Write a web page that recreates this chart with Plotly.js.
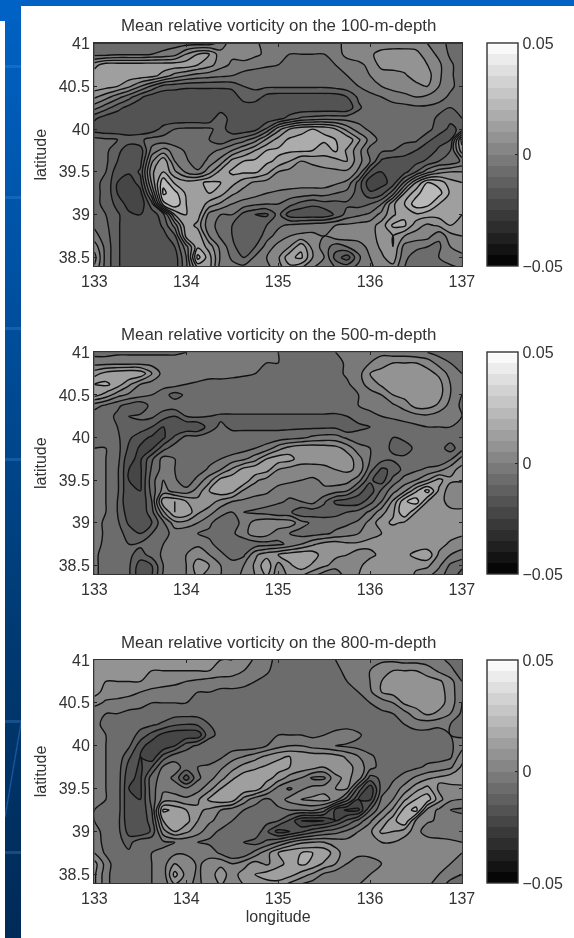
<!DOCTYPE html>
<html><head><meta charset="utf-8">
<script src="https://cdn.plot.ly/plotly-3.0.1.min.js"></script>
<style>
html,body{margin:0;padding:0;background:#fff;width:574px;height:938px;overflow:hidden}
#band{position:absolute;left:5px;top:0;width:569px;height:938px;background:linear-gradient(#0062c4,#004f9e 33%,#003a72 68%,#002a58)}
#bandTop{position:absolute;left:0;top:0;width:20px;height:21px;background:#0062c4}
#sheet{position:absolute;left:21px;top:6px;width:553px;height:932px;background:#fff}
.st{position:absolute;left:5px;width:16px;height:3px;background:rgba(70,140,220,.3)}
#diag{position:absolute;left:5px;top:723px;width:16px;height:94px;background:linear-gradient(to bottom right,transparent 46%,rgba(30,100,180,.8) 50%,transparent 54%)}
#plot{position:absolute;left:0;top:0;width:574px;height:938px;filter:blur(0.45px)}
</style></head><body>
<div id="band"></div><div id="bandTop"></div>
<div class="st" style="top:65px"></div><div class="st" style="top:196px"></div><div class="st" style="top:327px"></div><div class="st" style="top:458px"></div><div class="st" style="top:720px"></div><div class="st" style="top:851px"></div><div id="diag"></div>
<div id="sheet"></div><div id="plot"></div>
<script>
const longitudes=[133,133.125,133.25,133.375,133.5,133.625,133.75,133.875,134,134.125,134.25,134.375,134.5,134.625,134.75,134.875,135,135.125,135.25,135.375,135.5,135.625,135.75,135.875,136,136.125,136.25,136.375,136.5,136.625,136.75,136.875,137];
const latitudes=[41,40.875,40.75,40.625,40.5,40.375,40.25,40.125,40,39.875,39.75,39.625,39.5,39.375,39.25,39.125,39,38.875,38.75,38.625,38.5,38.375];
const depths=[100,500,800];
const tickLon=[133,134,135,136,137];
const tickLat=[38.5,39,39.5,40,40.5,41];
// vorticity in units of 0.001
const vorticity100=[
[-7,-7,-7,-7,-7,-7,-7,-7,-7,-7,-7,-3,3,3,1,-2,-5,-5,-5,-5,-5,-2,2,2,2,2,2,2,2,0,-2,-7,-8],
[-7,-7,-6,-6,-6,-5,-4,-2,5,10,10,2,1,3,1,-1,-3,-5,-5,-5,-5,-3,2,2,4,7,8,8,7,2,-1,-6,-8],
[8,13,13,13,13,13,13,13,13,10,7,2,-1,-2,-3,-4,-5,-7,-8,-8,-7,-5,-3,-1,1,7,8,8,8,5,1,-4,-8],
[13,13,13,13,13,12,8,3,0,-2,-3,-4,-5,-7,-8,-9,-9,-9,-9,-9,-9,-8,-5,-4,0,2,2,4,8,7,1,-4,-8],
[13,12,10,6,0,-6,-12,-13,-14,-14,-14,-14,-13,-10,-9,-9,-9,-9,-9,-9,-9,-8,-7,-5,-2,0,2,2,3,5,0,-4,-7],
[6,2,-3,-8,-14,-18,-19,-19,-19,-19,-19,-19,-19,-12,-12,-17,-18,-18,-18,-18,-18,-18,-15,-9,-7,-5,-3,-1,0,-1,-3,-6,-8],
[-3,-8,-13,-17,-19,-19,-19,-19,-19,-19,-19,-19,-19,-19,-19,-19,-19,-19,-19,-19,-19,-19,-19,-11,-7,-7,-7,-7,-6,-6,-7,-10,-9],
[-14,-18,-19,-19,-19,-19,-19,-19,-19,-19,-19,-10,-19,-19,-19,-19,-17,-13,-9,-8,-7,-7,-7,-7,-6,-6,-6,-6,-6,-6,-12,-14,-10],
[-18,-19,-19,-19,-19,-18,-13,-10,-9,-9,-9,-12,-19,-19,-17,-9,3,10,14,15,14,10,3,-3,-6,-6,-6,-6,-7,-8,-13,-16,-14],
[-8,-9,-10,-12,-11,-8,-8,-9,-9,-9,-10,-14,-10,-7,-2,6,12,16,16,16,16,15,14,6,-2,-7,-8,-9,-9,-14,-17,-15,12],
[-9,-9,-13,-19,-18,-3,2,-2,-6,-10,-7,-4,0,5,10,15,16,16,16,15,12,16,9,2,-7,-9,-10,-12,-15,-18,-14,-10,8],
[-9,-9,-15,-19,-17,4,14,0,-4,-9,-3,2,12,15,16,16,14,10,5,6,8,8,10,2,-5,-16,-18,-18,-17,-14,-10,-9,-4],
[-9,-10,-18,-19,-14,9,15,6,-1,-4,3,12,16,16,16,12,5,3,3,3,3,4,4,-1,-16,-20,-19,-17,-10,-2,3,5,5],
[-9,-11,-20,-24,-17,6,24,14,12,14,16,15,12,7,4,3,3,3,2,3,3,1,-1,-12,-24,-22,-18,-4,10,20,18,12,10],
[-9,-11,-20,-24,-22,-1,26,22,14,14,15,12,6,3,2,0,-1,-2,-2,-3,-3,-5,-7,-12,-19,-17,-7,10,18,24,22,14,10],
[-9,-11,-17,-22,-24,-12,18,24,15,14,8,4,0,-2,-4,-5,-5,-8,-12,-14,-12,-12,-11,-12,-10,-5,9,15,23,22,15,12,10],
[-8,-10,-14,-19,-20,-18,-12,10,15,13,-2,-5,-5,-12,-15,-16,-8,-18,-19,-19,-19,-14,-8,-6,-4,2,9,14,14,12,12,14,10],
[-6,-9,-14,-19,-19,-19,-14,-3,14,8,-4,-6,-10,-15,-15,-10,-6,-4,-3,-2,-1,0,1,2,3,7,16,16,7,4,6,10,8],
[-3,-8,-14,-19,-19,-19,-17,-11,12,14,0,-6,-10,-15,-14,-7,-3,0,1,1,0,3,3,3,4,6,10,5,3,2,-4,3,5],
[3,-7,-14,-19,-19,-19,-19,-15,-2,14,8,-2,-8,-15,-10,-3,2,5,14,3,-2,-8,-5,-3,2,6,10,-2,-4,-5,-6,0,3],
[7,-7,-14,-19,-19,-19,-19,-18,-5,22,12,-1,-6,-10,-4,0,4,14,16,5,0,-12,-18,-6,0,4,8,-4,-7,-8,-5,-3,-2],
[4,-7,-14,-19,-19,-19,-19,-18,-6,10,12,-3,-3,-3,-3,-2,3,8,5,0,-2,-5,-6,-4,-1,2,3,-5,-8,-7,-6,-6,-5]];
const vorticity500=[
[-7,-7,-6,-6,-6,-6,-6,-6,-5,-5,-3,-2,-1,-1,-1,-4,-5,-6,-6,-6,-6,-5,-3,-2,-2,-2,-3,-3,-4,-5,-7,-8,-9],
[-2,-2,-2,-2,-2,-2,-2,-2,-2,-2,-2,-2,-2,-2,-3,-5,-5,-7,-8,-8,-8,-7,-4,-2,0,4,5,5,5,3,-2,-5,-8],
[8,12,14,15,14,5,-2,-2,-2,-2,-3,-3,-3,-4,-5,-7,-8,-8,-8,-8,-8,-7,-4,-2,5,6,7,7,7,7,4,-2,-5],
[15,16,13,6,0,-2,-3,-3,-5,-6,-7,-7,-8,-8,-8,-8,-8,-8,-8,-8,-8,-7,-6,-2,2,6,7,7,7,7,7,0,-5],
[12,8,2,-1,-3,-5,-8,-12,-9,-8,-8,-8,-8,-8,-8,-8,-8,-8,-8,-8,-8,-8,-7,-5,-2,0,5,7,7,7,7,0,-5],
[-3,-6,-9,-12,-14,-8,-7,-7,-7,-6,-6,-6,-6,-6,-6,-6,-6,-6,-6,-6,-6,-7,-7,-5,-4,-3,-1,2,7,7,4,-2,-6],
[-8,-8,-11,-10,-9,-9,-13,-15,-10,-9,-10,-11,-11,-11,-11,-11,-11,-11,-11,-11,-11,-11,-10,-8,-6,-5,-4,-3,-2,-1,-3,-4,-5],
[-9,-9,-10,-11,-12,-15,-20,-20,-20,-20,-12,-9,-11,-11,-11,-11,-11,-11,-11,-11,-11,-11,-14,-11,-10,-9,-8,-7,-6,-5,-5,-5,-6],
[-7,-6,-9,-14,-18,-21,-21,-14,-8,-8,-8,-8,-8,-8,-8,-8,-8,-7,-6,-4,-3,-3,-6,-8,-9,-9,-10,-9,-9,-8,-8,-8,-10],
[-5,-5,-8,-16,-21,-21,-12,-7,-7,-7,-8,-8,-8,-7,-5,-3,3,7,9,9,8,7,3,-3,-5,-8,-11,-12,-9,-8,-8,-12,-7],
[-3,-5,-8,-19,-21,-11,-3,-5,-7,-7,-7,-5,-3,-1,3,10,13,12,7,7,8,9,8,2,-5,-8,-9,-9,-9,-9,-10,-6,2],
[-2,-5,-9,-20,-21,-9,-3,-5,-9,-8,-4,0,6,12,14,12,5,3,3,3,3,5,6,4,-8,-16,-14,-8,-6,-4,-2,3,7],
[-2,-5,-9,-20,-21,-7,0,-4,-9,-3,3,12,14,14,6,3,2,1,0,-1,1,3,2,-3,-14,-18,-8,-3,0,5,12,6,6],
[-2,-5,-9,-20,-20,-8,2,-2,-3,2,10,14,12,4,2,1,-2,-3,-2,-1,-1,-3,-5,-13,-18,-9,-2,4,14,22,9,2,0],
[-3,-5,-10,-20,-20,-10,14,15,10,7,8,3,0,-1,-2,-3,-4,-6,-5,-3,-9,-16,-18,-18,-12,-5,6,19,23,10,8,2,1],
[-5,-5,-10,-18,-19,-12,4,15,14,6,2,-3,-5,-5,-6,-7,-9,-9,-14,-13,-13,-12,-10,-8,-4,3,9,20,10,8,7,7,7],
[-3,-6,-9,-16,-18,-15,-6,3,3,0,-4,-8,-8,-3,2,4,4,3,-3,-6,-7,-7,-6,-4,2,8,11,9,7,7,7,7,7],
[0,-7,-8,-12,-15,-10,-7,-3,-4,-5,-6,-7,-6,-2,3,2,-3,-5,-7,-7,-6,-4,-2,0,4,5,6,6,6,6,6,7,6],
[-2,-7,-8,-10,-9,-7,-5,-2,-1,-1,-4,-7,-8,-9,-8,-7,-6,-4,0,4,7,8,6,6,6,6,6,6,6,6,7,4,2],
[-4,-7,-8,-9,-12,-8,-4,-2,0,3,0,-4,-7,-6,4,8,10,13,14,13,7,6,5,4,4,6,6,8,12,14,4,0,-2],
[-4,-7,-8,-9,-18,-15,-5,-2,0,8,5,0,-3,0,6,14,3,9,13,9,6,3,3,4,7,9,9,7,6,6,1,-6,-9],
[-4,-7,-8,-9,-19,-15,-4,-2,0,6,3,0,-2,1,5,10,2,6,5,1,-4,-6,3,5,9,10,10,8,4,1,-3,-8,-12]];
const vorticity800=[
[5,5,5,5,5,5,5,5,5,5,5,5,5,3,-1,-4,-6,-7,-7,-7,-6,-5,-4,-2,-1,-1,-1,-2,-2,-3,-4,-6,-8],
[5,5,5,5,5,5,5,5,5,5,5,4,3,0,-2,-4,-8,-9,-9,-9,-8,-6,-4,-2,0,3,5,5,5,3,-1,-4,-7],
[5,5,5,5,5,4,3,2,0,-1,-2,-3,-3,-4,-5,-7,-9,-9,-9,-9,-9,-7,-5,-2,0,5,7,7,7,7,6,2,-5],
[7,3,3,2,0,-2,-3,-4,-4,-5,-5,-6,-6,-6,-7,-8,-9,-9,-9,-9,-9,-9,-7,-5,-1,5,7,7,7,7,7,3,-5],
[2,-1,-2,-3,-4,-5,-5,-5,-5,-6,-6,-6,-6,-6,-6,-8,-9,-9,-9,-9,-9,-9,-8,-6,-5,-3,0,6,7,7,7,3,-5],
[-4,-5,-5,-6,-6,-7,-7,-8,-8,-8,-8,-8,-8,-8,-8,-9,-9,-9,-9,-9,-9,-9,-8,-7,-6,-6,-5,-2,3,6,4,0,-6],
[-4,-6,-7,-7,-8,-9,-11,-14,-15,-14,-10,-9,-9,-9,-9,-9,-9,-9,-9,-9,-9,-9,-8,-8,-7,-7,-6,-5,-3,-3,-4,-5,-7],
[-5,-5,-6,-7,-12,-17,-22,-24,-24,-24,-11,-9,-9,-9,-9,-8,-5,-5,-5,-6,-5,-2,-1,-4,-8,-8,-8,-8,-7,-7,-7,-5,-6],
[-5,-5,-6,-9,-18,-23,-24,-20,-12,-9,-8,-8,-8,-8,-8,-5,-2,0,0,-2,-3,-5,-6,-7,-8,-8,-8,-8,-8,-8,-8,-6,-2],
[-5,-5,-6,-14,-20,-24,-13,-7,-7,-8,-8,-6,-2,0,3,6,9,10,9,8,8,7,4,0,-4,-7,-8,-8,-8,-7,-7,-6,3],
[-5,-5,-7,-17,-21,-15,-4,-3,-7,-5,-4,-1,3,7,9,11,12,10,8,7,5,7,7,3,-3,-7,-8,-7,-6,-4,-3,-1,6],
[-5,-5,-7,-19,-21,-7,-3,-6,-18,-6,-2,3,9,13,14,12,8,3,0,-6,-6,4,6,3,-12,-9,-6,-3,1,4,6,8,9],
[-5,-5,-7,-20,-21,-7,-1,-3,-4,-2,3,10,14,14,13,6,-2,-6,-1,2,3,5,5,-12,-24,-8,-3,2,8,12,4,3,3],
[-5,-5,-7,-20,-20,-8,2,3,1,4,11,14,13,3,-3,-6,-3,2,5,6,7,3,-8,-20,-21,-4,0,9,15,18,7,1,0],
[-5,-6,-7,-20,-20,-10,16,14,10,6,4,0,-3,-5,-7,-8,-6,-5,-5,-4,-8,-22,-26,-26,-10,-1,6,17,22,3,-1,-5,-6],
[-5,-6,-8,-19,-20,-12,10,14,12,5,1,-2,-5,-6,-7,-8,-10,-16,-25,-26,-25,-20,-14,-8,-1,6,13,20,4,1,-1,-4,-3],
[-4,-6,-8,-17,-20,-14,3,10,6,2,-3,-6,-7,-5,-6,-14,-22,-20,-16,-12,-9,-7,-4,0,4,11,10,7,3,-4,-5,-3,-2],
[-2,-7,-8,-12,-6,-6,-6,-5,-4,-5,-6,-8,-9,-10,-12,-9,-5,0,4,5,5,3,2,2,3,5,5,3,3,4,3,1,0],
[0,-6,-9,-9,-6,-5,-4,-1,-1,-3,-2,-6,-10,-9,-3,3,10,14,15,15,14,7,2,2,2,3,4,4,3,3,2,1,0],
[7,-2,-9,-8,-6,-5,-2,5,4,-1,2,4,0,3,7,4,8,12,16,14,9,5,0,-4,-3,0,3,4,4,3,1,0,-2],
[6,-3,-9,-8,-6,-5,-3,12,3,-1,3,7,3,7,10,12,14,12,8,4,-1,-3,-4,-3,0,2,4,4,4,3,0,-3,-5],
[6,-3,-9,-9,-6,-5,-3,4,1,-1,2,5,2,5,7,8,7,3,-1,-3,-5,-4,-2,0,2,4,5,5,3,1,-3,-7,-11]];
const panels=[vorticity100,vorticity500,vorticity800];
const UNIT=0.001;
const W=574,H=938;
const boxes=[{t:43.5,b:266},{t:352.3,b:574},{t:660,b:883}];
const X0=94.4,X1=461.9;
const gray=[[0,'#000'],[1,'#fff']];
const textColor='#333';
const fontFam='"Liberation Sans",Arial,sans-serif';
const levels={start:-0.05,end:0.05,size:0.005};
const layout={width:W,height:H,margin:{l:0,r:0,t:0,b:0},paper_bgcolor:'rgba(0,0,0,0)',plot_bgcolor:'rgba(0,0,0,0)',showlegend:false,
 font:{family:fontFam,size:16,color:textColor},annotations:[]};
const traces=[];
panels.forEach((grid,i)=>{
 const n=i===0?'':String(i+1);
 const z=grid.map(r=>r.map(v=>v*UNIT));
 const box=boxes[i];
 layout['xaxis'+n]={domain:[X0/W,X1/W],range:[133,137],tickvals:tickLon,ticks:'inside',ticklen:3,tickwidth:1,tickcolor:'#222',mirror:'ticks',showline:true,linecolor:'#333',linewidth:1.4,showgrid:false,zeroline:false,anchor:'y'+n,tickfont:{size:16,color:textColor},
   title:i===2?{text:'longitude',font:{size:16,color:textColor},standoff:5}:undefined};
 layout['yaxis'+n]={domain:[1-box.b/H,1-box.t/H],range:[38.4,41],tickvals:tickLat,ticktext:tickLat.map(String),ticks:'inside',ticklen:3,tickwidth:1,tickcolor:'#222',mirror:'ticks',showline:true,linecolor:'#333',linewidth:1.4,showgrid:false,zeroline:false,anchor:'x'+n,tickfont:{size:16,color:textColor},
   title:{text:'latitude',font:{size:16,color:textColor},standoff:8}};
 traces.push({type:'contour',x:longitudes,y:latitudes,z:z,xaxis:'x'+n,yaxis:'y'+n,zmin:-0.05,zmax:0.05,zauto:false,colorscale:gray,
   autocontour:false,contours:Object.assign({coloring:'fill',showlines:false},levels),line:{width:0,smoothing:1},hoverinfo:'skip',
   colorbar:{x:487/W,xanchor:'left',xref:'paper',thickness:31,thicknessmode:'pixels',len:(box.b-box.t)/H,lenmode:'fraction',y:1-(box.t+box.b)/2/H,yanchor:'middle',yref:'paper',
     tickvals:[-0.05,0,0.05],ticktext:['\u22120.05','0','0.05'],ticks:'inside',ticklen:3,tickcolor:'#222',outlinewidth:1.4,outlinecolor:'#333',borderwidth:0,xpad:0,ypad:0,tickfont:{size:16,color:textColor}}});
 traces.push({type:'contour',x:longitudes,y:latitudes,z:z,xaxis:'x'+n,yaxis:'y'+n,zmin:-0.05,zmax:0.05,zauto:false,showscale:false,
   autocontour:false,contours:Object.assign({coloring:'none'},levels),line:{width:1.4,color:'#111',smoothing:1},hoverinfo:'skip'});
 layout.annotations.push({xref:'paper',yref:'paper',x:278/W,y:1-(box.t-18)/H,xanchor:'center',yanchor:'middle',showarrow:false,
   text:'Mean relative vorticity on the '+depths[i]+'-m-depth',font:{size:16.9,color:textColor}});
});
Plotly.newPlot('plot',traces,layout,{displayModeBar:false,staticPlot:true});
</script></body></html>
